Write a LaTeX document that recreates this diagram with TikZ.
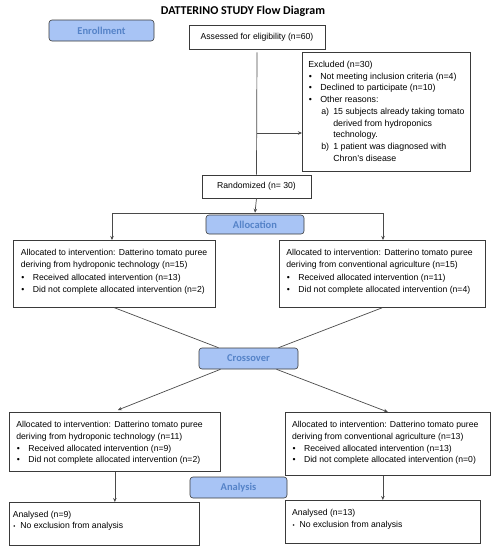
\documentclass[tikz,border=0pt]{standalone}
\usepackage{fontspec}
\setmainfont{Liberation Sans}
\newfontfamily\carlito{Carlito}
\usetikzlibrary{arrows.meta,calc}
\definecolor{secfill}{HTML}{A8C4F5}
\definecolor{sectext}{HTML}{5583C8}
\definecolor{boxc}{HTML}{3A3A3A}
\definecolor{linec}{HTML}{4A4A4A}
\newcommand\ftb[4][7pt]{\parbox[c][#3][t]{#2}{\leftskip=#1\rightskip=0pt plus 1fil\parindent=0pt\vspace*{8.8pt}#4}}
\newcommand\bul[1]{\par\hangindent=12pt\hangafter=1\makebox[12pt][l]{\hspace{0.5pt}\textbullet}#1}
\newcommand\smbul[1]{\par\hangindent=7.5pt\hangafter=1\makebox[7.5pt][l]{\hspace{0.5pt}\scalebox{0.7}{\textbullet}}#1}
\newcommand\subit[2]{\par\hangindent=25pt\hangafter=1\hspace*{13pt}\makebox[12pt][l]{#1}#2}
\begin{document}
\begin{tikzpicture}[x=1pt,y=1pt,
  tbox/.style={draw=boxc, line width=0.7pt, anchor=north west, inner sep=0pt, font=\fontsize{8.65}{11.8}\selectfont},
  sect/.style={draw=boxc, line width=0.6pt, rounded corners=3pt, fill=secfill, text=sectext, inner sep=0pt, font=\carlito\bfseries\fontsize{10.5}{12}\selectfont},
  ln/.style={draw=linec, line width=0.7pt},
  arr/.style={ln, -{Stealth[length=4pt,width=3.5pt]}}]
\useasboundingbox (0,0) rectangle (493,-550);
\node[font=\carlito\bfseries\fontsize{12}{14}\selectfont] (title) at (243,-11) {DATTERINO STUDY Flow Diagram};
\node[sect, minimum width=105pt, minimum height=21pt] (enroll) at (101.5,-30.5) {Enrollment};
\node[tbox, anchor=center, minimum width=136pt, minimum height=24pt] (assess) at (257,-37) {Assessed for eligibility (n=60)};
\node[tbox, font=\fontsize{8.8}{11.7}\selectfont] (excl) at (302,-52) {\ftb[6pt]{168pt}{119pt}{Excluded (n=30)
\bul{Not meeting inclusion criteria (n=4)}
\bul{Declined to participate (n=10)}
\bul{Other reasons:}
\subit{a)}{15 subjects already taking tomato\newline derived from hydroponics\newline technology.}
\subit{b)}{1 patient was diagnosed with\newline Chron’s disease}}};
\node[tbox, anchor=center, minimum width=109pt, minimum height=23pt] (rand) at (256.5,-186.5) {Randomized (n= 30)};
\node[sect, minimum width=98pt, minimum height=19pt] (alloc) at (255,-224.5) {Allocation};
\node[tbox, font=\fontsize{8.65}{12.3}\selectfont] (L1) at (13,-240) {\ftb[7.5pt]{202pt}{67pt}{Allocated to intervention: Datterino tomato puree\newline deriving from hydroponic technology (n=15)
\bul{Received allocated intervention (n=13)}
\bul{Did not complete allocated intervention (n=2)}}};
\node[tbox, font=\fontsize{8.65}{12.3}\selectfont] (R1) at (279,-240) {\ftb{206pt}{67pt}{Allocated to intervention: Datterino tomato puree\newline deriving from conventional agriculture (n=15)
\bul{Received allocated intervention (n=11)}
\bul{Did not complete allocated intervention (n=4)}}};
\node[sect, minimum width=99pt, minimum height=21pt] (cross) at (248.5,-358.5) {Crossover};
\node[tbox] (L2) at (9,-412) {\ftb{211pt}{59pt}{Allocated to intervention: Datterino tomato puree\newline deriving from hydroponic technology (n=11)
\bul{Received allocated intervention (n=9)}
\bul{Did not complete allocated intervention (n=2)}}};
\node[tbox] (R2) at (285,-412) {\ftb[6.7pt]{205pt}{63pt}{Allocated to intervention: Datterino tomato puree\newline deriving from conventional agriculture (n=13)
\bul{Received allocated intervention (n=13)}
\bul{Did not complete allocated intervention (n=0)}}};
\node[sect, minimum width=97pt, minimum height=21pt] (anal) at (238.5,-487.5) {Analysis};
\node[tbox, font=\fontsize{8.65}{11.2}\selectfont] (L3) at (9,-502) {\ftb[3.5pt]{190pt}{43pt}{Analysed (n=9)
\smbul{No exclusion from analysis}}};
\node[tbox, font=\fontsize{8.65}{12.5}\selectfont] (R3) at (285,-500) {\ftb[6.7pt]{195pt}{43pt}{Analysed (n=13)
\smbul{No exclusion from analysis}}};
% connectors
\draw[ln] ([yshift=-3pt]assess.south) -- (rand.north);
\coordinate (ex) at (257,-133);
\draw[arr] (ex) -- (ex -| excl.west);
\draw[arr] (rand.south) -- ([yshift=2pt]alloc.north);
\coordinate (hl) at (112,-213);
\coordinate (hr) at (383,-213);
\draw[ln] (hl) -- (hr);
\draw[arr] (hl) -- (hl |- L1.north);
\draw[arr] (hr) -- (hr |- R1.north);
\draw[ln] (L1.south) -- ([xshift=-30pt]cross.north);
\draw[ln] (R1.south) -- ([xshift=30pt]cross.north);
\draw[arr] ([xshift=-28pt]cross.south) -- ([xshift=3pt,yshift=2pt]L2.north);
\draw[arr] ([xshift=28pt]cross.south) -- (R2.north);
\draw[arr] (L2.south) -- (L2.south |- L3.north);
\draw[arr] (R3.north |- R2.south) -- (R3.north);
\end{tikzpicture}
\end{document}
